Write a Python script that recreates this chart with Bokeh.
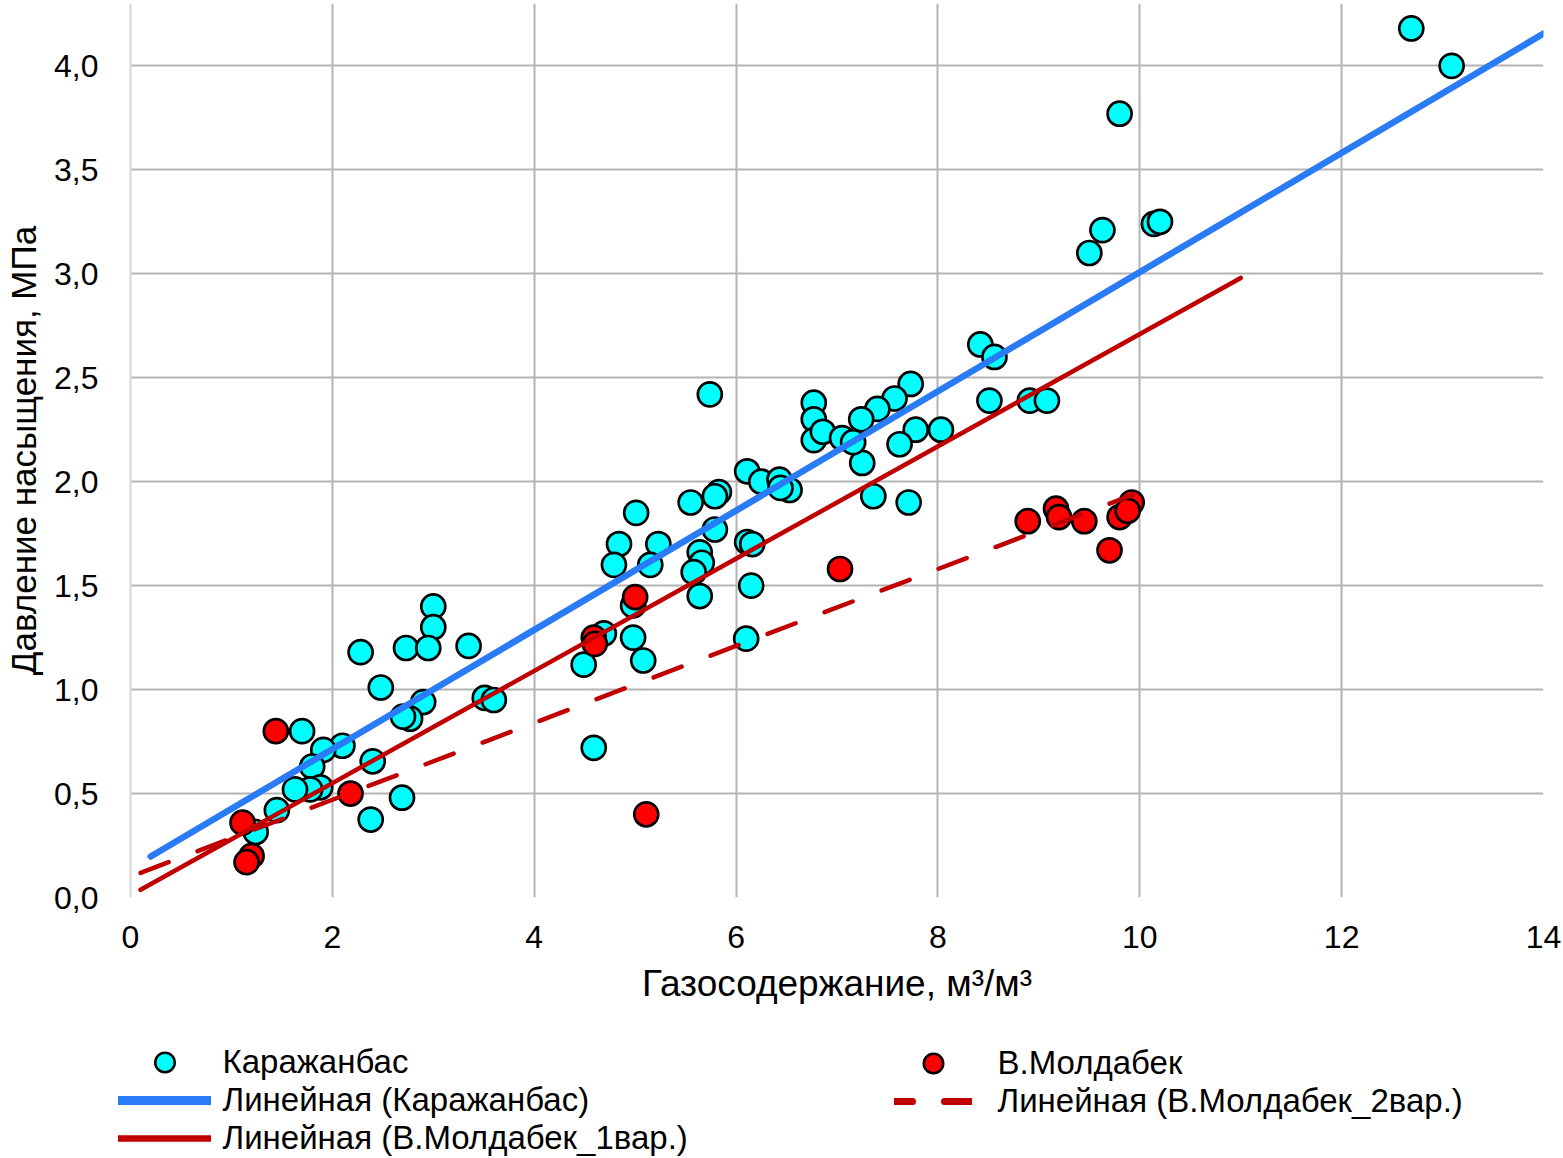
from bokeh.plotting import figure
from bokeh.layouts import column
from bokeh.models import (Range1d, FixedTicker, CustomJSTickFormatter, Legend,
                          LegendItem)
from bokeh.embed import file_html
from bokeh.resources import INLINE

# ---------------- data ----------------
# Каражанбас: gas content (m3/m3) vs saturation pressure (MPa)
kar_x = [12.69, 13.09, 9.80, 9.63, 9.50, 10.14, 10.20, 8.42, 8.56, 8.51, 8.91, 9.08,
         7.73, 7.57, 7.40, 7.24, 7.78, 8.03, 7.62, 7.25, 7.36, 7.71, 5.74, 6.77,
         6.77, 6.77, 6.86, 7.05, 7.16, 6.11, 6.25, 6.43, 6.53, 6.44, 5.55, 5.83,
         5.79, 5.01, 5.79, 6.11, 6.16, 6.15, 6.10, 4.84, 5.23, 4.79, 5.15, 5.64,
         5.66, 5.58, 5.64, 4.98, 4.98, 5.08, 4.49, 4.69, 4.59, 3.00, 3.00, 2.28,
         2.73, 2.95, 3.35, 2.48, 2.90, 2.77, 2.70, 3.51, 3.60, 1.70, 2.10, 1.91,
         1.80, 2.40, 2.69, 2.38, 1.88, 1.78, 1.63, 1.45, 1.24]
kar_y = [4.18, 4.00, 3.77, 3.21, 3.10, 3.24, 3.25, 2.66, 2.60, 2.39, 2.39, 2.39,
         2.47, 2.40, 2.35, 2.30, 2.25, 2.25, 2.18, 2.09, 1.93, 1.90, 2.42, 2.38,
         2.30, 2.20, 2.24, 2.21, 2.19, 2.05, 2.00, 2.01, 1.96, 1.97, 1.90, 1.95,
         1.93, 1.85, 1.77, 1.71, 1.70, 1.50, 1.245, 1.70, 1.70, 1.60, 1.60, 1.66,
         1.61, 1.565, 1.45, 1.405, 1.25, 1.14, 1.12, 1.27, 0.72, 1.40, 1.30, 1.18,
         1.20, 1.20, 1.21, 1.01, 0.94, 0.86, 0.87, 0.96, 0.95, 0.80, 0.73, 0.71,
         0.63, 0.655, 0.48, 0.375, 0.53, 0.52, 0.52, 0.42, 0.315]

# В.Молдабек
mol_x = [8.89, 9.17, 9.20, 9.45, 9.70, 9.80, 9.92, 9.88, 7.03, 5.00, 4.59, 4.60,
         5.11, 1.44, 2.18, 1.11, 1.20, 1.15]
mol_y = [1.81, 1.87, 1.83, 1.81, 1.67, 1.83, 1.90, 1.86, 1.58, 1.445, 1.25, 1.22,
         0.40, 0.80, 0.50, 0.36, 0.20, 0.17]

# linear trend lines: y = a + b*x, drawn from x_start to x_end
trend_kar = {"a": 0.14, "b": 0.2868, "x_start": 0.2, "x_end": 14.0}
trend_mol1 = {"a": 0.01, "b": 0.27, "x_start": 0.1, "x_end": 11.0}
trend_mol2 = {"a": 0.10, "b": 0.185, "x_start": 0.1, "x_end": 9.93}

x_ticks = [0, 2, 4, 6, 8, 10, 12, 14]
y_ticks = [0.0, 0.5, 1.0, 1.5, 2.0, 2.5, 3.0, 3.5, 4.0]

labels = ["Каражанбас", "В.Молдабек", "Линейная (Каражанбас)",
          "Линейная (В.Молдабек_2вар.)", "Линейная (В.Молдабек_1вар.)"]
x_title = "Газосодержание, м³/м³"
y_title = "Давление насыщения, МПа"

FONT = "Liberation Sans"
GRID = "#B4B4B4"
CYAN = "#00FFFF"
RED = "#FF0000"
BLUE = "#2A7BF6"
DARKRED = "#C00000"


def trend(t):
    xs = [t["x_start"], t["x_end"]]
    return xs, [t["a"] + t["b"] * x for x in xs]


p = figure(width=1563, height=1040, output_backend="svg", toolbar_location=None,
           x_range=Range1d(0, 14), y_range=Range1d(0, 4.3),
           min_border_left=130, min_border_right=20, min_border_top=3,
           min_border_bottom=143, background_fill_color="white",
           border_fill_color="white", outline_line_color=None)

# axes
for ax in (p.xaxis[0], p.yaxis[0]):
    ax.major_tick_line_color = None
    ax.minor_tick_line_color = None
    ax.major_label_text_font = FONT
    ax.major_label_text_font_size = "32px"
    ax.major_label_text_color = "black"
    ax.axis_label_text_font = FONT
    ax.axis_label_text_font_style = "normal"
    ax.axis_label_text_color = "black"
p.xaxis.axis_label_text_font_size = "37px"
p.yaxis.axis_label_text_font_size = "35px"

p.xaxis.ticker = FixedTicker(ticks=x_ticks)
p.yaxis.ticker = FixedTicker(ticks=y_ticks)
p.yaxis.formatter = CustomJSTickFormatter(code="return tick.toFixed(1).replace('.', ',');")
p.xaxis.axis_label = x_title
p.yaxis.axis_label = y_title
p.xaxis.axis_line_color = None
p.yaxis.axis_line_color = "#D6D6D6"
p.yaxis.axis_line_width = 2
p.xaxis.major_label_standoff = 22
p.xaxis.axis_label_standoff = 12
p.yaxis.major_label_standoff = 26
p.yaxis.axis_label_standoff = 8

p.xgrid.ticker = FixedTicker(ticks=[t for t in x_ticks if t != 0])
p.ygrid.ticker = FixedTicker(ticks=y_ticks)
for g in (p.xgrid[0], p.ygrid[0]):
    g.grid_line_color = GRID
    g.grid_line_width = 2

# points
p.scatter(kar_x, kar_y, size=24, marker="circle", fill_color=CYAN,
          line_color="black", line_width=2.7)
p.scatter(mol_x, mol_y, size=24, marker="circle", fill_color=RED,
          line_color="black", line_width=2.7)

# trend lines
xs, ys = trend(trend_kar)
p.line(xs, ys, line_color=BLUE, line_width=6.5, line_cap="round")
xs, ys = trend(trend_mol1)
p.line(xs, ys, line_color=DARKRED, line_width=4.5, line_cap="round")
xs, ys = trend(trend_mol2)
p.line(xs, ys, line_color=DARKRED, line_width=4.5, line_cap="round",
       line_dash="30 31")

# ---------------- legend (separate strip below the chart) ----------------
lg = figure(width=1563, height=118, output_backend="svg", toolbar_location=None,
            x_range=Range1d(0, 1), y_range=Range1d(0, 1),
            x_axis_type=None, y_axis_type=None, min_border=0,
            outline_line_color=None, background_fill_color="white",
            border_fill_color="white")
lg.xgrid.visible = False
lg.ygrid.visible = False

aligned_off = True
try:
    lg.frame_align = False
    p.frame_align = False
except Exception:
    aligned_off = False
frame_left = 0.0 if aligned_off else 130.0

# legend-only glyphs: a single point placed outside the strip's visible range
px, py = [5], [5]
k_ring = lg.scatter(px, py, marker="circle", fill_color="black",
                    line_color="black", line_width=7.6)
k_fill = lg.scatter(px, py, marker="circle", fill_color=CYAN,
                    line_color=CYAN, line_width=2.6)
m_ring = lg.scatter(px, py, marker="circle", fill_color="black",
                    line_color="black", line_width=7.6)
m_fill = lg.scatter(px, py, marker="circle", fill_color=RED,
                    line_color=RED, line_width=2.6)
l_k = lg.line(px, py, line_color=BLUE, line_width=9, line_cap="round")
l_1 = lg.line(px, py, line_color=DARKRED, line_width=6.5, line_cap="round")
l_2 = lg.line(px, py, line_color=DARKRED, line_width=7, line_cap="round",
              line_dash="18 32 28 100")

style = dict(glyph_height=36, label_height=20, spacing=0, padding=0, margin=0,
             label_text_font=FONT, label_text_font_size="33px",
             label_text_color="black", border_line_color=None,
             background_fill_alpha=0)

leg_left = Legend(items=[LegendItem(label=labels[0], renderers=[k_ring, k_fill]),
                         LegendItem(label=labels[2], renderers=[l_k]),
                         LegendItem(label=labels[4], renderers=[l_1])],
                  location=(max(0.0, 117.5 - frame_left), 1), glyph_width=93,
                  label_standoff=12, **style)
leg_right = Legend(items=[LegendItem(label=labels[1], renderers=[m_ring, m_fill]),
                          LegendItem(label=labels[3], renderers=[l_2])],
                   location=(893.5 - frame_left, 38), glyph_width=78,
                   label_standoff=26, **style)
lg.add_layout(leg_left)
lg.add_layout(leg_right)

layout = column(p, lg, spacing=0)
open("out.html", "w").write(file_html(layout, INLINE))
